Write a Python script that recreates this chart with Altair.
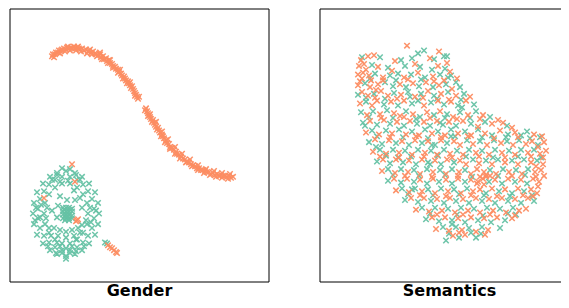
import altair as alt
import pandas as pd

TEAL = "#66c2a5"
ORANGE = "#fc8d62"

# ---------------- Gender panel (embedding coordinates) ----------------
gender_teal = [
    (99,221),(98,232),(95,243),(89,252),(82,259),(75,263),(66,265),(57,263),(50,259),(43,252),(37,243),(34,232),
    (33,221),(34,210),(37,199),(43,190),(50,183),(57,179),(66,177),(75,179),(82,183),(89,190),(95,199),(98,210),
    (94,226),(92,236),(88,244),(83,251),(77,256),(70,259),(62,259),(55,256),(49,251),(44,244),(40,236),(38,226),
    (38,216),(40,206),(44,198),(49,191),(55,186),(62,183),(70,183),(77,186),(83,191),(88,198),(92,206),(94,216),
    (88,221),(87,232),(83,241),(77,248),(70,252),(62,252),(55,248),(49,241),(45,232),(44,221),(45,210),(49,201),
    (55,194),(62,190),(70,190),(77,194),(83,201),(87,210),
    (82,233),(80,241),(76,248),(72,255),(66,257),(60,255),(57,251),(51,244),(49,236),
    (58,244),(66,246),(74,244),(60,238),(72,238),(54,236),(78,236),(66,240),(62,262),(70,262),(66,268),(56,262),
    (76,260),(48,255),(84,255),(36,215),(40,225),(35,228),(41,212),(46,226),(47,215),(86,228),(90,215),(91,230),
    (96,218),(62,174),(70,175),(57,181),(76,181),(52,186),(80,186),(60,188),(68,187),
    (58,213),(67,207),(75,207),(80,205),(74,197),(57,225),(60,203),(52,218),(82,215),
    (63,215),(66,215),(69,215),(72,216),(63,219),(66,219),(69,219),(72,219),(63,222),(66,222),(69,222),(72,223),
    (63,226),(66,226),(69,226),(72,226),(65,228),(69,228),(64,217),(68,224),(70,217),(66,224),
    (105,251),(107,252),
]
gender_orange = [
    (52,58),(53,56),(55,56),(56,54),(58,54),(59,52),(61,52),(62,51),(64,50),(66,51),(67,49),(69,50),(71,49),
    (72,50),(74,48),(75,50),(77,49),(79,50),(80,51),(82,50),(84,52),(86,51),(88,53),(89,52),(91,54),(93,53),
    (95,55),(96,56),(98,57),(100,56),(101,59),(103,58),(104,61),(106,60),(107,63),(109,62),(110,65),(112,66),
    (113,68),(115,69),(116,71),(118,72),(119,74),(121,76),(122,78),(124,79),(125,81),(126,83),(128,84),(129,86),
    (130,88),(132,89),(133,92),(134,94),(135,96),(136,98),(137,100),(138,102),
    (54,59),(60,55),(65,53),(70,52),(76,52),(81,53),(87,55),(92,56),(97,58),(102,61),(108,65),(113,70),(118,75),
    (123,81),(127,86),(131,91),(135,99),(68,48),(78,48),(90,51),(100,54),(110,62),(120,72),(130,85),(139,100),
    (146,112),(147,115),(148,117),(149,119),(150,121),(151,123),(153,124),(154,127),(155,129),(156,131),(158,132),
    (159,135),(160,137),(162,139),(163,141),(164,143),(166,145),(167,148),(169,149),(170,152),(172,153),(174,155),
    (176,157),(177,159),(179,160),(181,162),(183,164),(185,165),(187,167),(189,168),(191,170),(193,171),(195,172),
    (197,174),(199,174),(201,176),(203,176),(205,177),(207,178),(209,178),(211,180),(213,179),(215,181),(217,180),
    (219,182),(221,181),(223,182),(225,182),(227,183),(229,182),(231,184),(233,183),
    (145,114),(148,120),(152,126),(157,134),(161,141),(165,147),(170,154),(175,159),(180,164),(186,168),(192,172),
    (198,176),(204,179),(210,181),(216,183),(222,184),(228,185),(150,118),(156,126),(162,136),(168,144),(175,152),
    (182,159),(190,165),(198,171),(206,175),(214,177),(222,179),(230,180),
    (72,170),(75,188),(44,205),(77,228),(76,229),(78,227),
    (108,254),(110,256),(112,257),(114,259),(116,261),(117,262),
]

# ---------------- Semantics panel (embedding coordinates) ----------------
sem_teal = [
    (424,52),(418,55),
    (362,59),(380,59),(401,62),(412,60),(434,61),(444,58),
    (372,67),(388,70),(405,68),(420,69),(432,72),(445,71),
    (375,76),(390,78),(398,76),(411,77),(425,80),(440,77),(451,78),(456,85),
    (365,86),(385,85),(393,89),(406,90),(419,89),(433,90),(446,87),(460,90),
    (358,98),(374,97),(394,96),(408,95),(421,97),(434,99),(448,95),(464,97),
    (366,105),(384,108),(398,109),(412,107),(418,104),(431,106),(444,108),(458,109),(474,108),
    (361,116),(373,115),(387,114),(406,115),(420,121),(434,119),(447,118),(460,116),(476,115),
    (363,127),(377,129),(390,128),(404,130),(417,128),(430,130),(443,129),(456,130),(471,128),(485,126),(507,130),
    (372,135),(386,135),(399,134),(412,136),(425,134),(438,136),(451,134),(465,136),(478,134),(492,140),(508,139),
    (521,140),(527,136),(540,142),
    (369,147),(382,149),(396,148),(409,150),(422,148),(435,150),(447,148),(467,145),(480,146),(494,145),(507,146),
    (519,145),(538,150),
    (380,155),(393,155),(405,156),(418,155),(431,156),(444,155),(457,156),(469,155),(482,156),(495,155),(509,156),
    (521,155),(534,155),
    (377,167),(390,169),(403,168),(416,170),(428,168),(441,170),(454,168),(473,165),(486,166),(498,165),(512,166),
    (524,165),(537,166),
    (388,175),(401,175),(414,176),(427,175),(440,176),(452,175),(465,176),(490,176),(503,175),(516,176),(528,175),
    (388,187),(401,189),(414,188),(427,190),(439,188),(452,190),(465,188),(489,188),(502,190),(515,188),(527,190),
    (402,195),(415,195),(428,196),(441,195),(454,196),(467,195),(486,200),(499,198),(512,200),(524,198),
    (405,207),(418,209),(431,208),(444,210),(456,208),(469,210),(482,208),(495,210),(508,208),(521,210),(534,208),
    (422,215),(435,215),(448,216),(461,215),(474,216),(487,215),(500,216),(513,215),
    (426,227),(439,229),(452,228),(465,230),(478,228),(491,230),(505,228),
    (443,235),(456,235),(469,236),(482,235),
    (446,249),(459,246),(481,242),
    (365,130),(376,152),(398,163),(451,141),(462,111),(440,127),(430,170),(412,196),(452,232),(476,246),(500,236),
    (516,222),(432,150),(447,58),
    (370,81),(396,83),(421,82),(448,80),
    (366,101),(385,102),(410,100),(437,102),(461,103),
    (369,121),(393,122),(416,123),(445,122),(470,122),(490,121),
    (377,141),(403,142),(428,143),(455,141),(482,142),(506,142),(530,143),
    (386,161),(411,162),(438,161),(466,162),(493,163),(518,162),(541,163),
    (393,181),(419,182),(445,181),(472,183),(498,182),(525,181),
    (408,201),(433,202),(459,201),(484,202),(510,203),(532,202),
    (430,221),(457,222),(483,223),(508,221),
    (449,242),(471,241),
]
sem_orange = [
    (407,47),(439,53),
    (368,58),(374,57),(395,63),(430,60),(447,65),
    (359,68),(364,66),(378,69),(392,73),(415,66),(438,68),(450,74),
    (358,77),(363,75),(369,78),(383,80),(404,80),(418,75),(433,79),(444,83),
    (358,88),(370,90),(378,87),(400,87),(413,86),(426,85),(439,88),(452,92),
    (362,95),(368,99),(381,94),(388,99),(401,98),(415,100),(428,94),(441,97),(456,99),
    (360,107),(372,109),(377,104),(391,105),(404,104),(424,109),(438,104),(451,105),(466,104),
    (367,119),(380,118),(394,117),(400,120),(413,118),(427,116),(440,115),(453,121),(468,119),(483,119),
    (370,125),(384,124),(397,126),(410,125),(424,126),(437,125),(449,126),(463,125),(478,131),(492,128),(498,124),
    (512,132),
    (366,137),(379,139),(392,138),(406,139),(419,140),(432,138),(445,140),(458,138),(471,140),(485,138),(500,135),
    (515,137),(534,139),
    (375,144),(389,145),(402,146),(415,145),(428,146),(441,145),(454,146),(460,150),(473,149),(487,150),(501,148),
    (513,150),(526,149),(532,146),(544,147),
    (373,157),(386,159),(399,158),(412,160),(425,158),(437,160),(450,159),(463,160),(476,158),(489,160),(502,158),
    (515,160),(528,158),(540,159),(546,156),
    (383,165),(396,165),(409,166),(422,165),(435,166),(447,165),(460,166),(466,170),(479,169),(492,170),(505,168),
    (518,170),(531,168),(543,170),
    (382,177),(395,179),(408,178),(420,180),(433,178),(446,180),(459,178),(471,180),(477,175),(484,178),(496,180),
    (509,178),(522,180),(535,178),(541,176),
    (394,185),(407,185),(420,186),(433,185),(446,186),(458,185),(471,186),(477,190),(483,185),(495,186),(508,185),
    (521,186),(533,185),(539,188),
    (396,197),(409,199),(422,198),(435,200),(448,198),(461,200),(473,198),(480,196),(492,195),(505,196),(518,195),
    (531,196),(537,200),
    (411,205),(424,205),(437,206),(450,205),(463,206),(476,205),(489,206),(502,205),(515,206),(528,205),
    (416,217),(429,219),(442,218),(455,220),(468,218),(480,220),(493,218),(506,220),(519,218),(526,216),
    (432,225),(445,225),(458,226),(471,225),(484,226),(497,225),(512,226),
    (436,237),(449,239),(462,238),(476,240),(488,238),
    (453,244),(465,243),
    (361,62),(366,72),(371,83),(360,84),(376,93),
    (480,183),(486,183),(484,191),(490,182),(478,188),
    (538,152),(543,163),(536,172),(544,182),(538,193),(533,203),
    (362,81),(383,83),(408,82),(434,84),(457,81),
    (375,101),(397,102),(423,101),(449,103),(470,100),
    (381,122),(404,121),(430,122),(457,123),(480,123),(503,127),
    (390,142),(416,141),(441,142),(468,141),(494,143),(518,142),(542,141),
    (380,162),(399,163),(424,162),(452,163),(479,162),(505,163),(531,162),
    (405,182),(432,183),(458,182),(486,181),(512,182),(536,183),
    (420,202),(446,203),(471,202),(497,203),(523,202),
    (437,222),(463,222),(490,222),(515,223),
    (459,241),(485,243),
]

# panel frames (same coordinate system) and their titles
panel_titles = ["Gender", "Semantics"]
panel_x0 = [10, 320]
panel_x1 = [269, 579]
panel_y0 = [9, 9]
panel_y1 = [292, 292]
title_y = [306, 306]

X_SHAPE = "M-1,-1L1,1M-1,1L1,-1"

rows = []
for pts, g in ((gender_teal, "a"), (gender_orange, "b"), (sem_teal, "a"), (sem_orange, "b")):
    rows += [{"x": p[0], "y": p[1], "g": g} for p in pts]
points_df = pd.DataFrame(rows)

frames_df = pd.DataFrame({
    "label": panel_titles, "x0": panel_x0, "x1": panel_x1,
    "y0": panel_y0, "y1": panel_y1, "ty": title_y,
})

xscale = alt.Scale(domain=[10, 561], nice=False, zero=False)
yscale = alt.Scale(domain=[9, 292], nice=False, zero=False, reverse=True)

points = (
    alt.Chart(points_df)
    .mark_point(shape=X_SHAPE, filled=False, size=30, strokeWidth=1.5, opacity=0.95)
    .encode(
        x=alt.X("x:Q", scale=xscale, axis=None),
        y=alt.Y("y:Q", scale=yscale, axis=None),
        color=alt.Color("g:N", scale=alt.Scale(domain=["a", "b"], range=[TEAL, ORANGE]), legend=None),
    )
)

frames = (
    alt.Chart(frames_df)
    .mark_rect(filled=False, stroke="black", strokeWidth=1)
    .encode(
        x=alt.X("x0:Q", scale=xscale, axis=None),
        x2="x1:Q",
        y=alt.Y("y0:Q", scale=yscale, axis=None),
        y2="y1:Q",
    )
)

titles = (
    alt.Chart(frames_df)
    .transform_calculate(cx="(datum.x0 + datum.x1) / 2")
    .mark_text(font="DejaVu Sans", fontSize=16, fontWeight="bold", color="black",
               align="center", baseline="alphabetic")
    .encode(
        x=alt.X("cx:Q", scale=xscale, axis=None),
        y=alt.Y("ty:Q", scale=yscale, axis=None),
        text="label:N",
    )
)

chart = (
    alt.layer(frames, points, titles)
    .properties(
        width=551,
        height=273,
        padding={"left": 2, "top": 1, "right": 0, "bottom": 18},
        autosize=alt.AutoSizeParams(type="none"),
    )
    .configure_view(stroke=None)
)

chart.save("out.html", embed_options={"renderer": "svg", "actions": False})
